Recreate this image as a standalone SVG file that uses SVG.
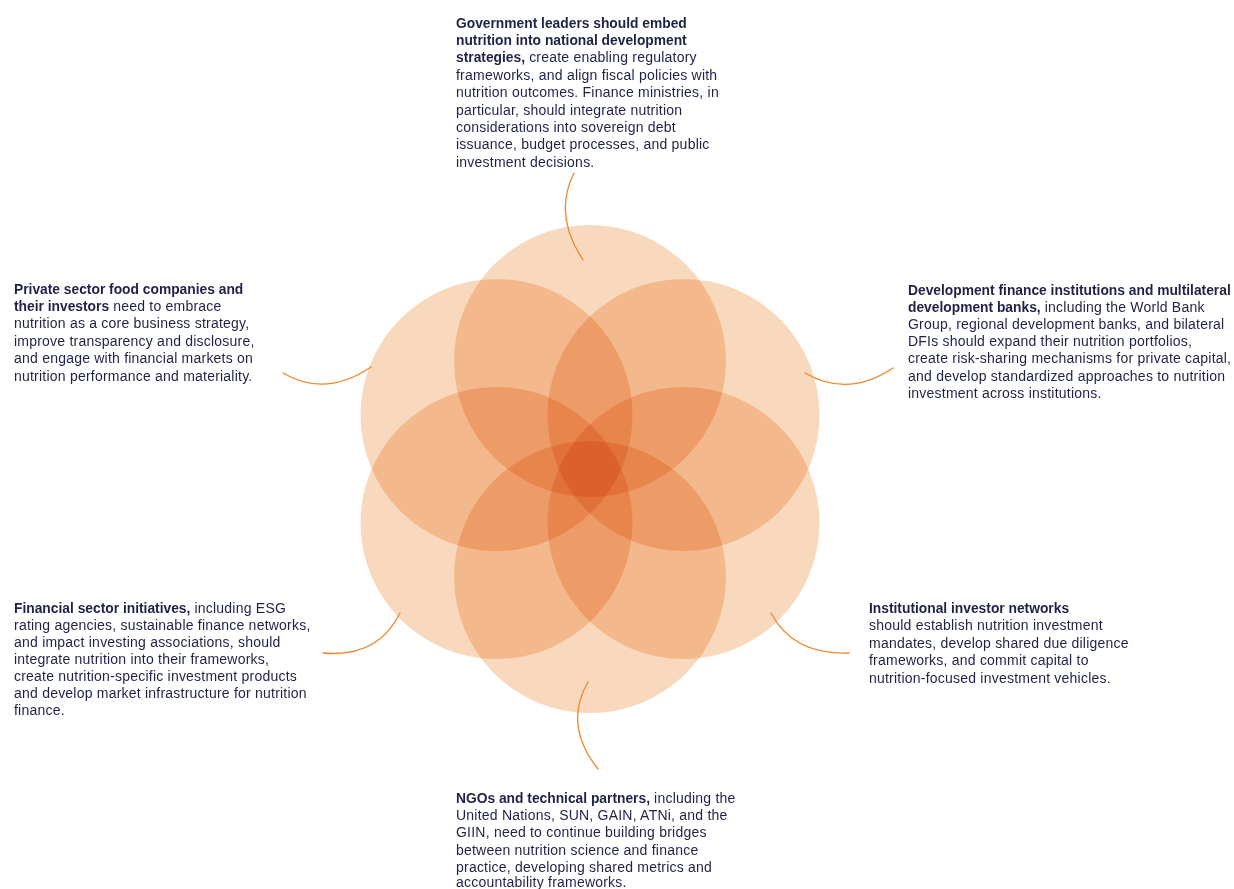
<svg xmlns="http://www.w3.org/2000/svg" width="1234" height="889" viewBox="0 0 1234 889">
<style>
.c{fill:#F9D9BD;mix-blend-mode:multiply}
.t{font-family:"Liberation Sans",Arial,sans-serif;font-size:14px;letter-spacing:0.22px;fill:#1E2247}
.b{font-weight:700;font-size:13.8px;letter-spacing:0px}
.k{fill:none;stroke:#F0872E;stroke-width:1.3;stroke-linecap:round}
</style>
<rect width="1234" height="889" fill="#FFFFFF"/>
<g id="circles" style="isolation:isolate">
<circle class="c" cx="590" cy="361" r="136"/>
<circle class="c" cx="496.5" cy="415" r="136"/>
<circle class="c" cx="683.5" cy="415" r="136"/>
<circle class="c" cx="496.5" cy="523" r="136"/>
<circle class="c" cx="683.5" cy="523" r="136"/>
<circle class="c" cx="590" cy="577" r="136"/>
</g>
<g id="connectors">
<path class="k" d="M574,173 Q553,215 583,260"/>
<path class="k" d="M283,373 Q325,398 371,367"/>
<path class="k" d="M805,373 Q848,398 893,368"/>
<path class="k" d="M400,613 Q378,658 323,653"/>
<path class="k" d="M771,613 Q793,655 849,653"/>
<path class="k" d="M588,682 Q563,725 598,769"/>
</g>
<g id="government">
<text class="t" x="456" y="27.5"><tspan class="b">Government leaders should embed</tspan></text>
<text class="t" x="456" y="44.9"><tspan class="b">nutrition into national development</tspan></text>
<text class="t" x="456" y="62.3"><tspan class="b">strategies,</tspan> create enabling regulatory</text>
<text class="t" x="456" y="79.7">frameworks, and align fiscal policies with</text>
<text class="t" x="456" y="97.1">nutrition outcomes. Finance ministries, in</text>
<text class="t" x="456" y="114.5">particular, should integrate nutrition</text>
<text class="t" x="456" y="131.9">considerations into sovereign debt</text>
<text class="t" x="456" y="149.3">issuance, budget processes, and public</text>
<text class="t" x="456" y="166.7">investment decisions.</text>
</g>
<g id="private">
<text class="t" x="14" y="293.5"><tspan class="b">Private sector food companies and</tspan></text>
<text class="t" x="14" y="310.9"><tspan class="b">their investors</tspan> need to embrace</text>
<text class="t" x="14" y="328.3">nutrition as a core business strategy,</text>
<text class="t" x="14" y="345.7">improve transparency and disclosure,</text>
<text class="t" x="14" y="363.1">and engage with financial markets on</text>
<text class="t" x="14" y="380.5">nutrition performance and materiality.</text>
</g>
<g id="dfi">
<text class="t" x="908" y="294.5"><tspan class="b">Development finance institutions and multilateral</tspan></text>
<text class="t" x="908" y="311.7"><tspan class="b">development banks,</tspan> including the World Bank</text>
<text class="t" x="908" y="328.9">Group, regional development banks, and bilateral</text>
<text class="t" x="908" y="346.1">DFIs should expand their nutrition portfolios,</text>
<text class="t" x="908" y="363.3">create risk-sharing mechanisms for private capital,</text>
<text class="t" x="908" y="380.5">and develop standardized approaches to nutrition</text>
<text class="t" x="908" y="397.7">investment across institutions.</text>
</g>
<g id="financial">
<text class="t" x="14" y="612.5"><tspan class="b">Financial sector initiatives,</tspan> including ESG</text>
<text class="t" x="14" y="629.5">rating agencies, sustainable finance networks,</text>
<text class="t" x="14" y="646.5">and impact investing associations, should</text>
<text class="t" x="14" y="663.5">integrate nutrition into their frameworks,</text>
<text class="t" x="14" y="680.5">create nutrition-specific investment products</text>
<text class="t" x="14" y="697.5">and develop market infrastructure for nutrition</text>
<text class="t" x="14" y="714.5">finance.</text>
</g>
<g id="institutional">
<text class="t" x="869" y="612.5"><tspan class="b">Institutional investor networks</tspan></text>
<text class="t" x="869" y="630">should establish nutrition investment</text>
<text class="t" x="869" y="647.5">mandates, develop shared due diligence</text>
<text class="t" x="869" y="665">frameworks, and commit capital to</text>
<text class="t" x="869" y="682.5">nutrition-focused investment vehicles.</text>
</g>
<g id="ngo">
<text class="t" x="456" y="802.5"><tspan class="b">NGOs and technical partners,</tspan> including the</text>
<text class="t" x="456" y="819.9">United Nations, SUN, GAIN, ATNi, and the</text>
<text class="t" x="456" y="837.3">GIIN, need to continue building bridges</text>
<text class="t" x="456" y="854.7">between nutrition science and finance</text>
<text class="t" x="456" y="872.1">practice, developing shared metrics and</text>
<text class="t" x="456" y="886.5">accountability frameworks.</text>
</g>
</svg>
